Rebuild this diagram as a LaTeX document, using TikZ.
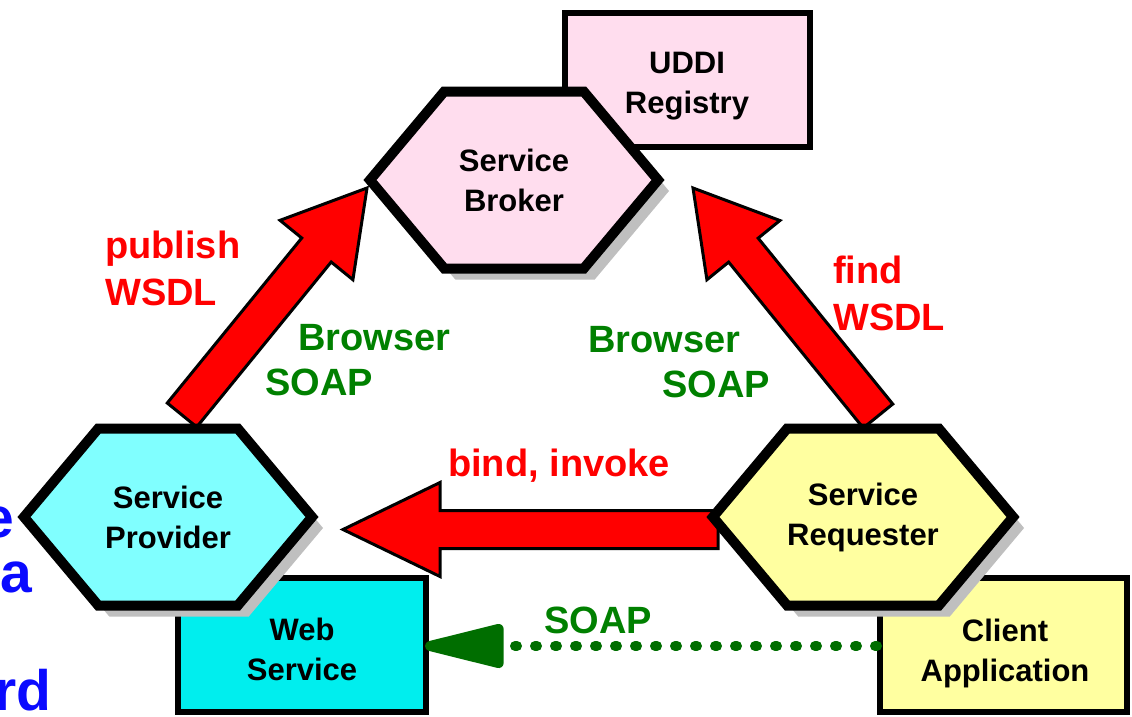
\documentclass[tikz,border=0pt]{standalone}
\usepackage{fontspec}
\setmainfont{Liberation Sans}
\usetikzlibrary{shapes.symbols,shadows,arrows.meta,calc,backgrounds}

\definecolor{brokerpink}{RGB}{255,221,238}
\definecolor{provcyan}{RGB}{128,255,255}
\definecolor{webcyan}{RGB}{0,238,238}
\definecolor{reqyellow}{RGB}{255,255,160}
\definecolor{soapgreen}{RGB}{0,128,0}
\definecolor{dotgreen}{RGB}{0,110,0}
\definecolor{edgeblue}{RGB}{10,10,255}

\tikzset{
  hexnode/.style={signal, signal to=west and east, signal from=nowhere,
    signal pointer angle=100, draw=black, line width=10pt,
    minimum width=288pt, minimum height=177pt, inner sep=0pt, align=center,
    font=\bfseries\fontsize{31}{40}\selectfont,
    drop shadow={shadow xshift=11pt, shadow yshift=-11pt, fill=black!25, opacity=1}},
  boxnode/.style={rectangle, draw=black, line width=6pt, minimum height=134pt, inner sep=0pt},
  boxtext/.style={inner sep=0pt, align=center, font=\bfseries\fontsize{31}{40}\selectfont},
  redlabel/.style={text=red, inner sep=0pt, align=left,
    font=\bfseries\fontsize{38}{47}\selectfont},
  greenlabel/.style={text=soapgreen, inner sep=0pt, align=left,
    font=\bfseries\fontsize{38}{45}\selectfont},
  bluetext/.style={text=edgeblue, inner sep=0pt,
    font=\bfseries\fontsize{57}{68}\selectfont},
  redarrow/.style={draw=black, fill=red, line width=3pt, line join=miter},
}

% fat arrow: #2 tail, #3 tip, #1 head length
\newcommand{\bigarrow}[3][80pt]{%
  \coordinate (hb) at ($(#3)!#1!(#2)$);
  \draw[redarrow] ($(#2)!19pt!90:(#3)$) -- ($(hb)!19pt!90:(#3)$)
    -- ($(hb)!47pt!90:(#3)$) -- (#3) -- ($(hb)!47pt!-90:(#3)$)
    -- ($(hb)!19pt!-90:(#3)$) -- ($(#2)!19pt!-90:(#3)$) -- cycle;
}

\begin{document}
\begin{tikzpicture}[x=1pt,y=-1pt]
  \useasboundingbox (0,0) rectangle (1132,716);

  % boxes under the hexagons
  \node[boxnode, fill=brokerpink, minimum width=245pt] (uddi) at (687.5,80) {};
  \node[boxtext] (uddilabel) at (687,86) {UDDI\\Registry};
  \node[boxnode, fill=webcyan, minimum width=248pt] (websvc) at (302,645) {};
  \node[boxtext] (websvclabel) at (302,649) {Web\\Service};
  \node[boxnode, fill=reqyellow, minimum width=247pt] (client) at (1003.5,645) {};
  \node[boxtext] (clientlabel) at (1005,653) {Client\\Application};

  \node[hexnode, fill=brokerpink] (broker) at (514,180) {Service\\Broker};
  \node[hexnode, fill=provcyan] (provider) at (168,517) {Service\\Provider};
  \node[hexnode, fill=reqyellow] (requester) at (863,517) {Service\\Requester};

  % red arrows go behind the hexagons
  \begin{scope}[on background layer]
    \coordinate (pubfrom) at ($(provider.center)+(14,-102)$);
    \coordinate (pubto) at ($(broker.center)+(-147,8)$);
    \coordinate (findfrom) at ($(requester.center)+(15,-101)$);
    \coordinate (findto) at ($(broker.center)+(179,8)$);
    \coordinate (bindfrom) at ($(requester.center)+(-145,12.5)$);
    \coordinate (bindto) at ($(provider.center)+(175,12.5)$);
    \bigarrow{pubfrom}{pubto}
    \bigarrow{findfrom}{findto}
    \bigarrow[97pt]{bindfrom}{bindto}
  \end{scope}

  \draw[dotgreen, line width=10pt, line cap=round, dash pattern=on 2pt off 18pt,
    -{Triangle[length=96pt,width=44pt,round]}] ($(client.west)+(0,1)$) -- ($(websvc.east)+(-4,1)$);

  \node[redlabel, anchor=west] (publish) at (105,268) {publish\\WSDL};
  \node[redlabel, anchor=west] (find) at (833,293) {find\\WSDL};
  \node[redlabel] (bind) at (559,466) {bind, invoke};

  \node[greenlabel, anchor=west] (browserl) at (265,360) {\hspace*{33pt}Browser\\SOAP};
  \node[greenlabel, anchor=west] (browserr) at (588,362) {Browser\\\hspace*{74pt}SOAP};
  \node[greenlabel] (soap) at (598,620) {SOAP};

  \node[bluetext, anchor=base east] (edge1) at (14,537) {e};
  \node[bluetext, anchor=base east] (edge2) at (32,592) {ia};
  \node[bluetext, anchor=base east] (edge3) at (52,710) {rd};
\end{tikzpicture}
\end{document}
